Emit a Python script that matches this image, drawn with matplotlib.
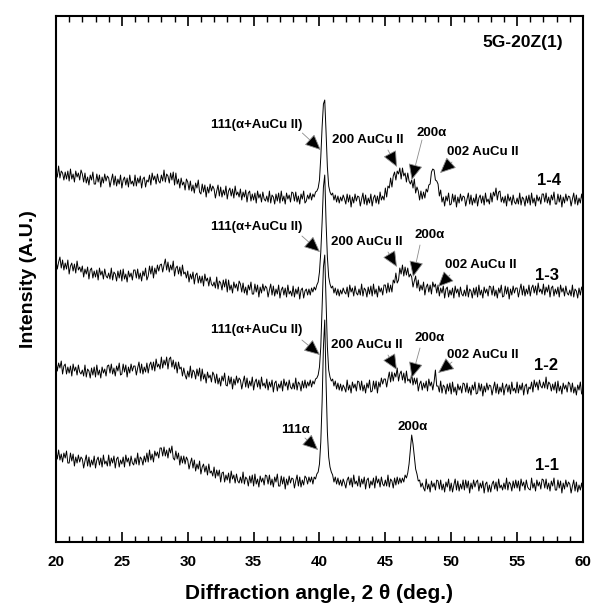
import numpy as np
import matplotlib
matplotlib.use("Agg")
import matplotlib.pyplot as plt
from matplotlib.ticker import MultipleLocator

plt.rcParams['font.family'] = ['Liberation Sans', 'DejaVu Sans']
plt.rcParams['font.weight'] = 'bold'

# 2 theta grid (deg), 0.1 deg step; one row below = one degree
angle = np.linspace(20, 60, 401)

# intensities (arbitrary units, traces already offset)
s11 = [91, 83, 92, 82, 88, 80, 89, 84, 91, 79,
       79, 89, 81, 88, 76, 85, 79, 87, 80, 85,
       83, 74, 81, 87, 76, 85, 75, 82, 77, 86,
       74, 82, 85, 77, 84, 75, 87, 78, 81, 76,
       87, 76, 84, 79, 86, 74, 83, 85, 75, 82,
       78, 85, 75, 87, 80, 84, 76, 86, 79, 77,
       84, 78, 89, 77, 85, 83, 77, 86, 80, 89,
       80, 92, 82, 88, 80, 91, 86, 90, 84, 94,
       94, 86, 95, 86, 92, 84, 94, 89, 96, 84,
       82, 91, 83, 89, 77, 86, 79, 86, 78, 85,
       82, 73, 79, 84, 74, 82, 71, 78, 73, 81,
       68, 75, 78, 70, 76, 67, 78, 69, 71, 66,
       75, 64, 72, 66, 72, 60, 69, 70, 60, 67,
       62, 69, 59, 71, 63, 67, 59, 68, 61, 59,
       65, 59, 70, 58, 65, 63, 56, 66, 59, 67,
       56, 68, 58, 63, 55, 66, 60, 64, 57, 67,
       66, 58, 67, 57, 63, 55, 65, 60, 68, 56,
       56, 66, 58, 65, 53, 63, 57, 66, 59, 64,
       63, 54, 61, 67, 56, 65, 55, 62, 57, 66,
       64, 58, 65, 60, 65, 58, 65, 63, 68, 70,
       78, 100, 140, 195, 222, 160, 110, 85, 75, 70,
       67, 60, 65, 58, 64, 57, 62, 56, 63, 59,
       54, 62, 65, 57, 64, 55, 67, 58, 61, 56,
       66, 55, 63, 58, 65, 53, 62, 64, 54, 61,
       57, 64, 54, 66, 59, 63, 55, 65, 58, 56,
       62, 56, 67, 55, 63, 61, 54, 64, 57, 65,
       58, 64, 59, 64, 60, 67, 64, 69, 78, 92,
       107, 98, 86, 73, 68, 61, 62, 55, 59, 54,
       51, 63, 53, 58, 50, 61, 55, 59, 52, 62,
       61, 53, 62, 52, 58, 50, 60, 55, 63, 51,
       59, 50, 57, 63, 52, 61, 51, 58, 53, 62,
       52, 62, 54, 61, 49, 59, 53, 62, 55, 60,
       62, 51, 59, 54, 61, 49, 58, 60, 50, 57,
       50, 58, 61, 53, 60, 51, 63, 54, 57, 52,
       59, 53, 64, 52, 60, 58, 51, 61, 54, 62,
       54, 61, 51, 63, 56, 60, 52, 62, 55, 53,
       52, 64, 54, 59, 51, 62, 56, 60, 53, 63,
       62, 54, 63, 53, 59, 51, 61, 56, 64, 52,
       52, 62, 54, 61, 49, 59, 53, 62, 55, 60,
       58, 49, 56, 62, 51, 60, 50, 57, 52, 59,
       50]

s12 = [182, 171, 179, 174, 181, 168, 176, 178, 168, 175,
       169, 176, 166, 178, 171, 175, 167, 177, 170, 168,
       172, 166, 177, 165, 173, 171, 164, 174, 167, 175,
       165, 177, 167, 172, 164, 175, 169, 173, 166, 176,
       177, 169, 178, 168, 174, 166, 176, 171, 179, 167,
       168, 178, 170, 177, 165, 175, 169, 178, 171, 176,
       176, 167, 174, 180, 169, 178, 168, 175, 170, 179,
       169, 177, 180, 172, 180, 171, 183, 175, 178, 173,
       185, 174, 182, 177, 185, 173, 183, 185, 175, 182,
       173, 180, 169, 180, 173, 175, 166, 174, 167, 163,
       171, 165, 176, 164, 172, 170, 163, 173, 166, 174,
       161, 173, 163, 168, 159, 170, 164, 167, 160, 170,
       167, 159, 168, 158, 164, 156, 166, 161, 169, 157,
       156, 166, 158, 165, 153, 163, 157, 166, 159, 164,
       162, 153, 160, 166, 155, 164, 154, 161, 156, 165,
       152, 160, 163, 155, 162, 153, 165, 156, 159, 154,
       163, 152, 160, 155, 162, 150, 159, 161, 151, 158,
       154, 161, 151, 163, 156, 160, 152, 162, 155, 153,
       159, 153, 164, 152, 160, 158, 151, 161, 154, 162,
       154, 160, 156, 162, 155, 161, 158, 163, 164, 167,
       175, 195, 235, 275, 287, 240, 195, 172, 165, 161,
       163, 156, 161, 153, 159, 152, 158, 151, 157, 154,
       150, 162, 152, 157, 149, 160, 154, 158, 151, 161,
       160, 152, 161, 151, 157, 149, 159, 154, 162, 150,
       151, 161, 153, 161, 149, 160, 155, 164, 158, 163,
       163, 155, 163, 170, 160, 170, 161, 169, 165, 174,
       161, 168, 171, 162, 169, 159, 171, 161, 163, 159,
       169, 157, 164, 158, 164, 151, 158, 161, 152, 159,
       154, 161, 151, 163, 156, 160, 152, 160, 172, 156,
       156, 150, 161, 149, 157, 155, 148, 158, 151, 159,
       148, 160, 150, 155, 147, 158, 152, 156, 149, 159,
       158, 150, 159, 149, 155, 147, 157, 152, 160, 148,
       149, 159, 151, 158, 146, 156, 150, 159, 152, 157,
       156, 147, 154, 160, 149, 158, 148, 155, 150, 159,
       147, 155, 158, 150, 157, 148, 160, 151, 154, 149,
       160, 149, 157, 152, 159, 147, 156, 158, 148, 155,
       153, 160, 150, 162, 155, 160, 152, 162, 156, 154,
       160, 154, 165, 153, 160, 158, 151, 158, 152, 160,
       149, 161, 151, 156, 148, 159, 153, 157, 150, 160,
       158, 150, 159, 149, 155, 147, 157, 152, 160, 148,
       150]

s13 = [282, 273, 280, 285, 274, 282, 272, 279, 273, 282,
       268, 276, 279, 271, 278, 269, 281, 272, 275, 270,
       276, 265, 273, 268, 275, 263, 272, 274, 264, 271,
       265, 272, 262, 274, 267, 271, 263, 273, 266, 264,
       269, 263, 274, 262, 270, 268, 261, 271, 264, 272,
       261, 273, 263, 268, 260, 271, 265, 269, 262, 272,
       272, 264, 273, 263, 269, 261, 271, 266, 274, 262,
       266, 276, 268, 276, 264, 274, 268, 277, 271, 277,
       278, 270, 277, 283, 272, 280, 270, 277, 272, 281,
       266, 274, 276, 268, 275, 266, 277, 268, 270, 264,
       271, 260, 268, 263, 270, 258, 267, 269, 259, 266,
       259, 266, 256, 268, 261, 264, 256, 265, 258, 256,
       260, 254, 265, 253, 261, 259, 252, 262, 255, 263,
       250, 262, 252, 257, 249, 260, 254, 258, 251, 261,
       258, 250, 259, 249, 255, 247, 257, 252, 260, 248,
       248, 258, 250, 257, 245, 255, 249, 258, 251, 256,
       254, 245, 252, 258, 247, 256, 246, 253, 248, 257,
       244, 252, 255, 247, 254, 245, 257, 248, 251, 246,
       256, 245, 253, 248, 255, 243, 252, 254, 244, 251,
       253, 247, 253, 247, 254, 250, 255, 252, 257, 260,
       270, 290, 320, 355, 367, 320, 285, 265, 258, 254,
       256, 249, 254, 247, 253, 246, 252, 248, 254, 250,
       248, 255, 245, 257, 250, 254, 246, 256, 249, 247,
       253, 247, 258, 246, 254, 252, 245, 255, 248, 256,
       246, 258, 248, 253, 245, 256, 250, 254, 247, 257,
       257, 249, 259, 250, 257, 250, 262, 259, 269, 259,
       262, 274, 268, 277, 266, 275, 267, 274, 265, 268,
       265, 255, 261, 266, 254, 262, 251, 257, 252, 260,
       247, 255, 258, 250, 257, 248, 260, 255, 258, 249,
       257, 246, 254, 249, 256, 244, 253, 255, 245, 252,
       247, 254, 244, 256, 249, 253, 245, 255, 248, 246,
       252, 246, 257, 245, 253, 251, 244, 254, 247, 255,
       245, 257, 247, 252, 244, 255, 249, 253, 246, 256,
       255, 247, 256, 246, 252, 244, 254, 249, 257, 245,
       246, 256, 248, 255, 243, 253, 247, 256, 249, 254,
       254, 245, 252, 258, 247, 256, 246, 253, 248, 257,
       246, 254, 257, 249, 256, 247, 259, 250, 253, 248,
       258, 247, 255, 250, 257, 245, 254, 256, 246, 253,
       248, 255, 245, 257, 250, 254, 246, 256, 249, 247,
       252, 246, 257, 245, 253, 251, 244, 254, 247, 255,
       250]

s14 = [371, 365, 376, 364, 371, 369, 362, 370, 363, 371,
       361, 373, 363, 368, 360, 371, 365, 369, 362, 372,
       368, 360, 369, 359, 365, 357, 367, 362, 370, 358,
       358, 368, 360, 367, 355, 365, 359, 368, 361, 366,
       364, 355, 362, 368, 357, 366, 356, 363, 358, 367,
       354, 362, 365, 357, 364, 355, 367, 358, 361, 356,
       367, 356, 364, 359, 366, 354, 363, 365, 355, 362,
       360, 367, 357, 369, 362, 366, 358, 368, 361, 359,
       367, 361, 372, 360, 368, 366, 359, 369, 362, 370,
       357, 369, 358, 363, 354, 364, 357, 360, 352, 363,
       360, 352, 361, 351, 357, 349, 359, 354, 362, 350,
       348, 358, 350, 357, 345, 355, 349, 358, 351, 356,
       353, 344, 351, 357, 346, 355, 345, 352, 347, 356,
       343, 351, 354, 346, 353, 344, 356, 347, 350, 345,
       353, 342, 350, 345, 352, 340, 349, 351, 341, 348,
       342, 349, 339, 351, 344, 348, 340, 350, 343, 341,
       346, 340, 351, 339, 347, 345, 338, 348, 341, 349,
       339, 351, 341, 346, 338, 349, 343, 347, 340, 350,
       349, 341, 350, 340, 346, 338, 348, 343, 351, 339,
       341, 347, 343, 349, 342, 348, 345, 350, 351, 354,
       362, 385, 415, 438, 442, 410, 375, 356, 350, 347,
       349, 342, 347, 340, 346, 339, 345, 341, 347, 343,
       338, 348, 340, 347, 335, 345, 339, 348, 341, 346,
       345, 336, 343, 349, 338, 347, 337, 344, 339, 348,
       336, 344, 347, 339, 346, 338, 350, 342, 346, 342,
       354, 345, 356, 354, 364, 355, 366, 370, 362, 371,
       368, 374, 363, 374, 366, 369, 360, 369, 361, 358,
       362, 354, 363, 349, 355, 351, 342, 351, 343, 350,
       344, 353, 350, 357, 358, 370, 373, 372, 362, 361,
       358, 346, 352, 340, 345, 336, 346, 341, 349, 337,
       338, 348, 340, 347, 335, 345, 339, 348, 341, 346,
       345, 336, 343, 349, 338, 347, 337, 344, 339, 348,
       336, 344, 347, 339, 346, 337, 349, 340, 343, 338,
       349, 340, 350, 346, 354, 342, 350, 351, 340, 345,
       339, 346, 336, 348, 341, 345, 337, 347, 340, 338,
       344, 338, 349, 337, 345, 343, 336, 346, 339, 347,
       337, 349, 339, 344, 336, 347, 341, 345, 338, 348,
       348, 340, 349, 339, 345, 337, 347, 342, 350, 338,
       338, 348, 340, 347, 335, 345, 339, 348, 341, 346,
       345, 336, 343, 349, 338, 347, 337, 344, 339, 348,
       340]

samples = ['1-1', '1-2', '1-3', '1-4']
series = [s11, s12, s13, s14]
sample_pos = [(57.3, 77), (57.2, 177), (57.3, 267), (57.4, 362)]

# peak labels: text, text position, arrow start, arrow tip (None = no arrow)
peak_labels = [
    ('111(α+AuCu II)', (35.25, 417), (38.7, 409), (40.1, 392)),
    ('200 AuCu II', (43.7, 402), (45.2, 392), (45.88, 375)),
    ('200α', (48.54, 409), (47.78, 402), (47.0, 362)),
    ('002 AuCu II', (52.4, 390), (50.06, 380), (49.15, 369)),
    ('111(α+AuCu II)', (35.25, 315), (38.67, 306), (40.04, 290)),
    ('200 AuCu II', (43.6, 300), (45.2, 290), (45.88, 275)),
    ('200α', (48.39, 307), (47.63, 297), (47.1, 265)),
    ('002 AuCu II', (52.26, 277), (49.9, 267), (48.99, 255)),
    ('111(α+AuCu II)', (35.25, 212), (38.67, 202), (40.04, 187)),
    ('200 AuCu II', (43.6, 197), (45.2, 187), (45.88, 172)),
    ('200α', (48.39, 204), (47.63, 194), (47.0, 164)),
    ('002 AuCu II', (52.4, 187), (50.06, 180), (49.0, 169)),
    ('111α', (38.2, 112), (38.9, 104), (39.9, 92)),
    ('200α', (47.1, 115), None, None),
]

fig = plt.figure(figsize=(6, 6.05), dpi=100)
ax = fig.add_axes([0.0933, 0.1041, 0.8783, 0.8694])

for s in series:
    ax.plot(angle, s, color='black', lw=0.7)

for name, (sx, sy) in zip(samples, sample_pos):
    ax.text(sx, sy, name, fontsize=12, fontweight='bold', ha='center', va='center')

for txt, tpos, start, tip in peak_labels:
    ax.text(tpos[0], tpos[1], txt, fontsize=9.5, fontweight='bold', ha='center', va='center')
    if tip is not None:
        ax.annotate('', xy=tip, xytext=start,
                    arrowprops=dict(arrowstyle='-|>,head_length=1.0,head_width=0.45',
                                    fc='black', ec='0.55', lw=0.6, shrinkA=0, shrinkB=0))

ax.text(55.4, 500, '5G-20Z(1)', fontsize=12.5, fontweight='bold', ha='center', va='center')

ax.set_xlim(20, 60)
ax.set_ylim(0, 526)
ax.xaxis.set_major_locator(MultipleLocator(5))
ax.xaxis.set_minor_locator(MultipleLocator(1))
ax.tick_params(axis='x', which='both', direction='in', top=True, labelsize=11, pad=9)
ax.tick_params(axis='x', which='major', length=7, width=1.2)
ax.tick_params(axis='x', which='minor', length=4, width=1)
ax.set_yticks([])
for lab in ax.get_xticklabels():
    lab.set_fontweight('bold')
for sp in ax.spines.values():
    sp.set_linewidth(1.5)

ax.set_xlabel('Diffraction angle, 2 θ (deg.)', fontsize=15, fontweight='bold', labelpad=11)
ax.set_ylabel('Intensity (A.U.)', fontsize=14, fontweight='bold', labelpad=14)

fig.savefig('out.png', dpi=100)
